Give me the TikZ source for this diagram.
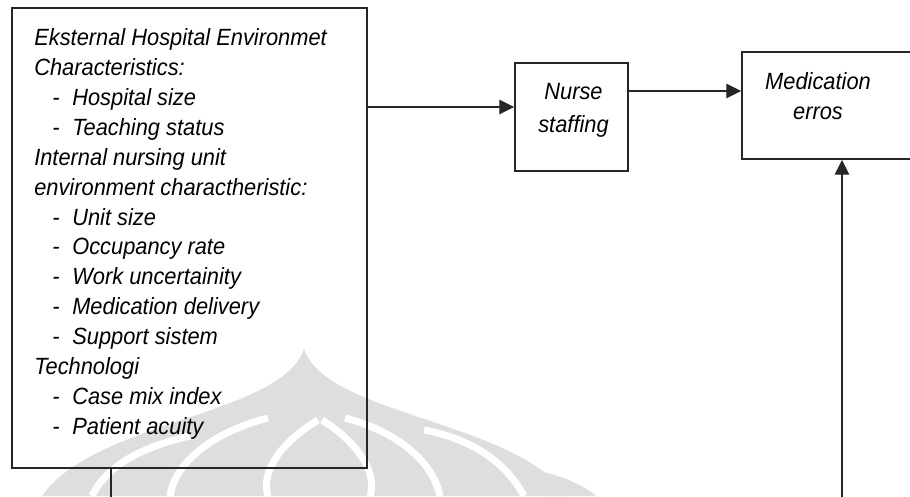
\documentclass[tikz,border=0pt]{standalone}
\usepackage{fontspec}
\setmainfont[FakeStretch=0.93]{Liberation Sans}
\usepackage{tikz}
\usetikzlibrary{arrows.meta, positioning, calc}

\newcommand{\itm}[1]{\hspace*{0.45cm}\makebox[0.5cm][l]{-}#1}

\begin{document}
\begin{tikzpicture}[
    x=0.025cm, y=-0.025cm,
    every node/.style={font=\fontsize{16.7pt}{21.3pt}\selectfont\itshape, inner sep=0pt},
    box/.style={rectangle, draw=black!85, line width=1.3pt},
    listtext/.style={align=left, anchor=north west},
    boxtext/.style={align=center, anchor=north},
    arrow/.style={-{Triangle[length=0.37cm, width=0.36cm]}, line width=1pt, draw=black!85},
    wmark/.style={fill=black!13, draw=none},
    wgap/.style={draw=white, line width=5pt}
]

\useasboundingbox (0,0) rectangle (910,496);
\clip (0,0) rectangle (910,496);

% Watermark (behind everything)
\fill[wmark] (42,496) .. controls (95,420) and (285,415) .. (304,348) .. controls (323,415) and (515,420) .. (568,496) -- cycle;
\fill[wmark] (532,470) .. controls (560,474) and (585,486) .. (596,496) -- (548,496) .. controls (546,488) and (541,478) .. (532,470);
\draw[wgap] (92,496) .. controls (108,462) and (150,445) .. (190,436);
\draw[wgap] (170,496) .. controls (176,458) and (220,430) .. (268,418);
\draw[wgap] (318,420) .. controls (272,448) and (262,478) .. (268,496);
\draw[wgap] (322,420) .. controls (366,448) and (376,478) .. (370,496);
\draw[wgap] (440,496) .. controls (432,458) and (392,430) .. (345,418);
\draw[wgap] (524,496) .. controls (505,460) and (468,438) .. (424,430);

% Boxes
\node[box, minimum width=8.875cm, minimum height=11.5cm] (ext) at (189.5,238) {};
\node[box, minimum width=2.825cm, minimum height=2.7cm] (nurse) at (571.5,117) {};
\node[box, minimum width=5cm, minimum height=2.675cm] (med) at (842,105.5) {};

% Texts
\node[listtext] (extlist) at (34,28) {Eksternal Hospital Environmet\\Characteristics:\\\itm{Hospital size}\\\itm{Teaching status}\\Internal nursing unit\\environment charactheristic:\\\itm{Unit size}\\\itm{Occupancy rate}\\\itm{Work uncertainity}\\\itm{Medication delivery}\\\itm{Support sistem}\\Technologi\\\itm{Case mix index}\\\itm{Patient acuity}};
\node[boxtext, font=\fontsize{16.7pt}{23.5pt}\selectfont\itshape] (nursetext) at (573.5,83) {Nurse\\staffing};
\node[boxtext] (medtext) at (818,72) {Medication\\erros};

% Rows of the arrows
\coordinate (row1) at (0,107);
\coordinate (row2) at (0,91);
\coordinate (ltap) at (111,0);
\coordinate (low) at (0,540);

% Arrows
\draw[arrow] (ext.east |- row1) -- (nurse.west |- row1);
\draw[arrow] (nurse.east |- row2) -- (med.west |- row2);
\draw[arrow] (ext.south -| ltap) -- (ltap |- low) -| (med.south);

\end{tikzpicture}
\end{document}
